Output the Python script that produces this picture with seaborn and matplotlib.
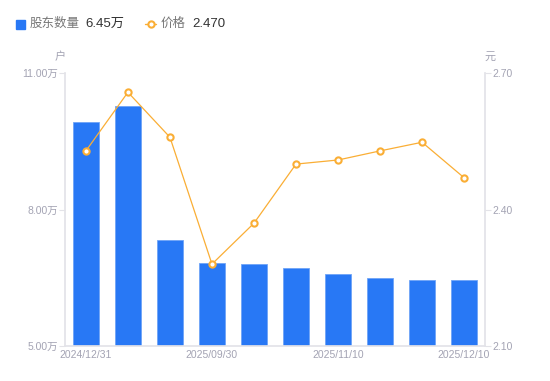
import matplotlib
matplotlib.use("Agg")
import matplotlib.pyplot as plt
import seaborn as sns
import pandas as pd
from matplotlib.patches import Rectangle
from matplotlib.lines import Line2D

# data
dates = ["2024/12/31", "2025/03/31", "2025/06/30", "2025/09/30", "2025/10/20",
         "2025/10/31", "2025/11/10", "2025/11/20", "2025/11/30", "2025/12/10"]
holders = [9.92, 10.27, 7.33, 6.82, 6.81, 6.72, 6.58, 6.49, 6.46, 6.45]  # 万户
price = [2.529, 2.658, 2.559, 2.280, 2.370, 2.500, 2.509, 2.529, 2.548, 2.470]
shown_ticks = [0, 3, 6, 9]

BLUE = "#2878F5"
ORANGE = "#FAAE35"
GRAY = "#A3A3B3"
AXIS = "#E3E3E8"

sns.set_theme(style="white")
plt.rcParams["font.family"] = ["Liberation Sans", "Noto Sans CJK SC", "DejaVu Sans"]

df = pd.DataFrame({"date": dates, "holders": holders, "price": price, "pos": range(len(dates))})

fig = plt.figure(figsize=(5.5, 3.81), dpi=100)
ax = fig.add_axes([0.118, 0.092, 0.764, 0.716])

sns.barplot(data=df, x="date", y="holders", color=BLUE, width=0.6, saturation=1,
            edgecolor="#6FA4F7", linewidth=0.6, ax=ax)
ax.set_ylim(5, 11)
ax.set_xlim(-0.5, len(dates) - 0.5)
ax.set_yticks([5, 8, 11])
ax.set_yticklabels(["5.00万", "8.00万", "11.00万"])
ax.set_xticks(shown_ticks)
ax.set_xticklabels([dates[i] for i in shown_ticks])
ax.set_xlabel("")
ax.set_ylabel("")

ax2 = ax.twinx()
sns.lineplot(data=df, x="pos", y="price", color=ORANGE, linewidth=0.9, marker="o",
             markersize=4.5, markerfacecolor="white", markeredgecolor=ORANGE,
             markeredgewidth=1.5, ax=ax2)
ax2.set_ylim(2.10, 2.70)
ax2.set_yticks([2.10, 2.40, 2.70])
ax2.set_yticklabels(["2.10", "2.40", "2.70"])
ax2.set_ylabel("")
ax2.set_xlim(-0.5, len(dates) - 0.5)

for a in (ax, ax2):
    for s in a.spines.values():
        s.set_visible(False)
    a.tick_params(colors=GRAY, labelsize=7.5, length=4, width=0.8, color=AXIS, pad=1)
ax.spines["left"].set_visible(True)
ax.spines["left"].set_color(AXIS)
ax.spines["bottom"].set_visible(True)
ax.spines["bottom"].set_color(AXIS)
ax2.spines["right"].set_visible(True)
ax2.spines["right"].set_color(AXIS)
ax.tick_params(axis="x", length=0, pad=3)
ax.tick_params(axis="y", left=True)
ax2.tick_params(axis="y", right=True)

# unit labels
fig.text(60 / 550, 1 - 57 / 381, "户", color=GRAY, fontsize=8, ha="center", va="center")
fig.text(490 / 550, 1 - 57 / 381, "元", color=GRAY, fontsize=8, ha="center", va="center")

# legend
fig.patches.append(Rectangle((16 / 550, 1 - 29 / 381), 9 / 550, 9 / 381, color=BLUE,
                             transform=fig.transFigure, figure=fig))
fig.text(30 / 550, 1 - 24 / 381, "股东数量", color="#777777", fontsize=9, va="center")
fig.text(85 / 550, 1 - 24 / 381, "%.2f万" % holders[-1], color="#333333", fontsize=9.5, va="center")
fig.add_artist(Line2D([145 / 550, 156 / 550], [1 - 24 / 381, 1 - 24 / 381], color=ORANGE,
                      linewidth=1, transform=fig.transFigure))
fig.add_artist(Line2D([150.5 / 550], [1 - 24 / 381], color=ORANGE, marker="o", markersize=4.5,
                      markerfacecolor="white", markeredgewidth=1.5, transform=fig.transFigure))
fig.text(161 / 550, 1 - 24 / 381, "价格", color="#777777", fontsize=9, va="center")
fig.text(192 / 550, 1 - 24 / 381, "%.3f" % price[-1], color="#333333", fontsize=9.5, va="center")

fig.savefig("out.png", dpi=100)
